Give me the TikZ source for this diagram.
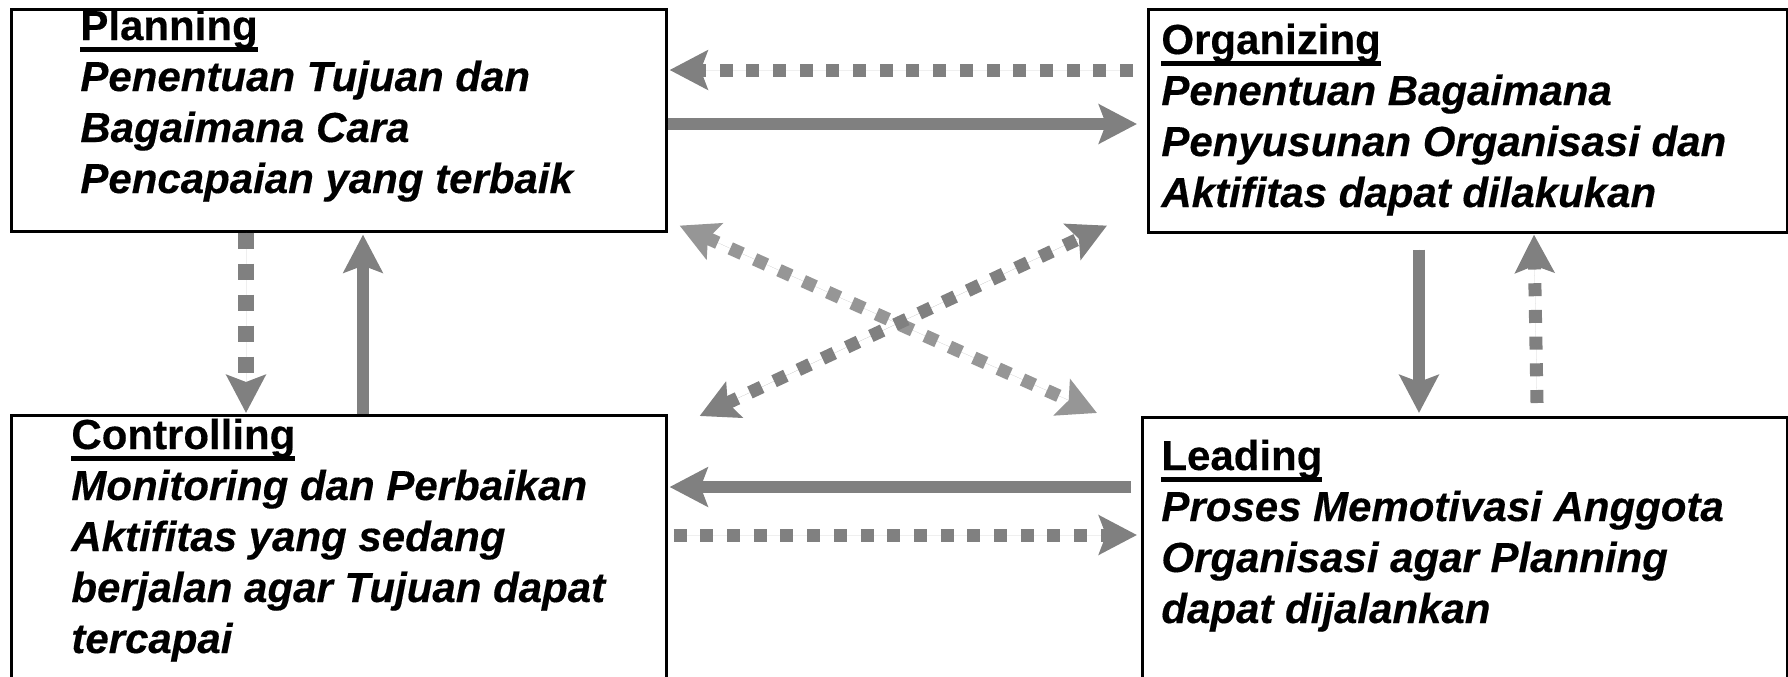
\documentclass[tikz,border=0pt]{standalone}
\usepackage{fontspec}
\setmainfont{Liberation Sans}[BoldFeatures={FakeBold=0.35},BoldItalicFeatures={FakeBold=0.35}]
\usetikzlibrary{arrows.meta,calc}
\definecolor{arr}{RGB}{128,128,128}
\definecolor{arrlight}{RGB}{150,150,150}
\newcommand{\hdr}[1]{\setbox0=\hbox{\bfseries #1}\rlap{\rule[-5.8pt]{\wd0}{2.35pt}}\box0}
\newcommand{\tline}[1]{\hbox{\bfseries\itshape #1}}
\tikzset{
  box/.style={draw=black, line width=1.3pt, inner sep=0pt, anchor=north west, fill=none},
  txt/.style={anchor=base west, inner sep=0pt, font=\fontsize{21pt}{25.5pt}\selectfont},
  tip/.style={-{Stealth[length=19pt,width=19.5pt,inset=3.5pt]}},
  bitip/.style={{Stealth[length=19pt,width=19.5pt,inset=3.5pt]}-{Stealth[length=19pt,width=19.5pt,inset=3.5pt]}},
  solidarr/.style={tip, draw=arr, fill=arr, line width=6.2pt},
  dotarr/.style={tip, draw=arr, fill=arr, line width=6.5pt, dash pattern=on 6.5pt off 6.85pt},
  dotbig/.style={tip, draw=arr, fill=arr, line width=8pt, dash pattern=on 8pt off 7.5pt},
  dotdiag/.style={bitip, line width=6.5pt, dash pattern=on 6.5pt off 6.85pt}
}
\begin{document}
\begin{tikzpicture}[x=0.5pt,y=-0.5pt]
\useasboundingbox (0,0) rectangle (1788,676);
% boxes
\node[box, minimum width=327.5pt, minimum height=111pt] (plan) at (10,8) {};
\node[box, minimum width=319.5pt, minimum height=111.5pt] (org) at (1147,8) {};
\node[box, minimum width=327.5pt, minimum height=143pt] (ctrl) at (10,414) {};
\node[box, minimum width=322.5pt, minimum height=142pt] (lead) at (1141,416) {};
% texts
\node[txt] (plant) at (80,40) {\vtop{\hbox{\hdr{Planning}}\tline{Penentuan Tujuan dan}\tline{Bagaimana Cara}\tline{Pencapaian yang terbaik}}};
\node[txt] (orgt) at (1161,54) {\vtop{\hbox{\hdr{Organizing}}\tline{Penentuan Bagaimana}\tline{Penyusunan Organisasi dan}\tline{Aktifitas dapat dilakukan}}};
\node[txt] (ctrlt) at (71,449) {\vtop{\hbox{\hdr{Controlling}}\tline{Monitoring dan Perbaikan}\tline{Aktifitas yang sedang}\tline{berjalan agar Tujuan dapat}\tline{tercapai}}};
\node[txt] (leadt) at (1161,470) {\vtop{\hbox{\hdr{Leading}}\tline{Proses Memotivasi Anggota}\tline{Organisasi agar Planning}\tline{dapat dijalankan}}};
% horizontal connectors
\draw[dotarr] ($(org.north west)+(-14,62)$) -- ($(plan.north east)+(2,62)$);
\draw[solidarr] ($(plan.north east)+(0,116)$) -- ($(org.north west)+(-10,116)$);
\draw[solidarr] ($(lead.north west)+(-10,71)$) -- ($(ctrl.north east)+(2,73)$);
\draw[dotarr] ($(ctrl.north east)+(6,121)$) -- ($(lead.north west)+(-4,119)$);
% vertical connectors
\draw[dotbig] ($(plan.south west)+(236,0)$) -- ($(ctrl.north west)+(236,-1)$);
\draw[solidarr] ($(ctrl.north west)+(353,0)$) -- ($(plan.south west)+(353,2)$);
\draw[solidarr] ($(org.south west)+(272,16)$) -- ($(lead.north west)+(278,-3)$);
\draw[dotarr] ($(lead.north west)+(396,-13)$) -- ($(org.south west)+(387,1)$);
% diagonal connectors
\draw[dotdiag, draw=arrlight, fill=arrlight] ($(plan.south east)+(12,-7)$) -- ($(lead.north west)+(-44,-3)$);
\draw[dotdiag, draw=arr, fill=arr] ($(ctrl.north east)+(32,2)$) -- ($(org.south west)+(-40,-8)$);
\end{tikzpicture}
\end{document}
